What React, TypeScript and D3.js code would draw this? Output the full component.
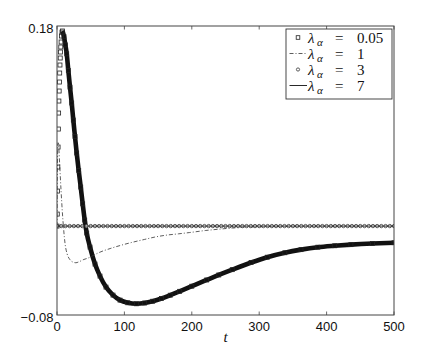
import React from "react";
import * as d3 from "d3";

// λα = 0.05 (square markers)
const tA = [0, 0.4, 0.8, 1.2, 1.6, 2.0, 2.4, 2.8, 3.2, 3.6, 4.0, 4.4, 4.8, 5.2, 5.6, 6.1, 6.7, 7.4, 8.2, 10.4, 12.4, 14.4, 16.8, 19.3, 21.8, 24.2, 26.7, 29.2, 32.2, 35.2, 38.1, 41.1, 44.1, 49.0, 56.4, 63.8, 72.7, 83.1, 93.5, 105, 118, 130, 142, 155, 168, 182, 200, 222, 240, 260, 288, 312, 338, 362, 387, 412, 436, 468, 500];
const vA = [0, 0.0108, 0.0315, 0.0531, 0.0711, 0.0873, 0.1017, 0.1125, 0.1215, 0.1296, 0.1377, 0.1449, 0.1512, 0.1566, 0.1611, 0.1656, 0.171, 0.1745, 0.1755, 0.1704, 0.163, 0.155, 0.14, 0.125, 0.1107, 0.0954, 0.0805, 0.0657, 0.05, 0.0351, 0.02, 0.0054, -0.0063, -0.0189, -0.0342, -0.045, -0.0549, -0.0621, -0.0666, -0.069, -0.0699, -0.0692, -0.0676, -0.0652, -0.0622, -0.0587, -0.0541, -0.0485, -0.044, -0.0392, -0.0328, -0.028, -0.024, -0.0212, -0.019, -0.0177, -0.0167, -0.0157, -0.015];

// λα = 1 (dash-dot)
const tB = [0, 0.5, 1, 1.6, 2.5, 4, 6, 8, 10, 12, 15, 19, 24, 28, 33, 40, 46, 55, 64, 80, 96, 113, 130, 145, 163, 180, 197, 220, 242, 265, 286, 320, 360, 420, 500];
const vB = [0, 0.045, 0.068, 0.075, 0.072, 0.055, 0.032, 0.012, -0.004, -0.016, -0.025, -0.03, -0.0325, -0.033, -0.032, -0.03, -0.0288, -0.026, -0.0234, -0.02, -0.0171, -0.0144, -0.012, -0.0099, -0.0081, -0.007, -0.0058, -0.004, -0.0027, -0.0015, -0.0009, -0.0004, -0.0002, 0, 0];

// λα = 3 (circle markers), sampled on a regular time grid
const tC = d3.range(0, 500.01, 6.25);
const vC = tC.map(() => 0);

// λα = 7 (solid)
const tD = [0, 5, 10, 50, 100, 200, 300, 400, 500];
const vD = [0, 0, 0, 0, 0, 0, 0, 0, 0];

const xTicks = [0, 100, 200, 300, 400, 500];
const yTicks = [0.18, -0.08];
const yTickLabels = ["0.18", "\u22120.08"];
const legendValues = ["0.05", "1", "3", "7"];

const W = 436, H = 355;
const L = 57, R = 394, T = 26, B = 315;

export default function App() {
  const x = d3.scaleLinear().domain([0, 500]).range([L, R]);
  const y = d3.scaleLinear().domain([-0.08, 0.18]).range([B, T]);

  const line = (ts: number[], vs: number[]) =>
    d3.line<number>().x((_, i) => x(ts[i])).y((d) => y(d)).curve(d3.curveMonotoneX)(vs) || "";

  const peak = d3.maxIndex(vA);
  const tAthick = tA.slice(peak);
  const vAthick = vA.slice(peak);

  const sq = 4;
  const axisColor = "#444";
  const sans = "'Liberation Sans', Arial, Helvetica, sans-serif";
  const serif = "'Liberation Serif', 'Times New Roman', serif";

  const legendX0 = 286, legendX1 = 392, legendY0 = 29, legendY1 = 99;
  const baselines = [42.5, 58.5, 74.5, 90.5];

  return (
    <svg width={W} height={H} style={{ position: "absolute", left: 0, top: 0, background: "#fff" }}>
      <rect x={0} y={0} width={W} height={H} fill="#fff" />
      <defs>
        <clipPath id="plot">
          <rect x={L} y={T - 6} width={R - L} height={B - T + 6} />
        </clipPath>
      </defs>

      <g clipPath="url(#plot)">
        <path d={line(tAthick, vAthick)} fill="none" stroke="#111" strokeWidth={4.6} strokeLinejoin="round" />
        {tA.map((t, i) => (
          <rect key={"a" + i} x={x(t) - sq / 2} y={y(vA[i]) - sq / 2} width={sq} height={sq}
            fill="none" stroke="#222" strokeWidth={0.8} />
        ))}
        <path d={line(tB, vB)} fill="none" stroke="#333" strokeWidth={0.8} strokeDasharray="4,2,1,2" />
        {tC.map((t, i) => (
          <circle key={"c" + i} cx={x(t)} cy={y(vC[i])} r={1.7} fill="#fff" stroke="#333" strokeWidth={0.8} />
        ))}
        <path d={line(tD, vD)} fill="none" stroke="#111" strokeWidth={0.8} />
      </g>

      <rect x={L} y={T} width={R - L} height={B - T} fill="none" stroke={axisColor} strokeWidth={1} />
      {xTicks.map((t) => (
        <g key={"xt" + t}>
          <line x1={x(t)} x2={x(t)} y1={B} y2={B - 3.5} stroke={axisColor} strokeWidth={0.8} />
          <line x1={x(t)} x2={x(t)} y1={T} y2={T + 3.5} stroke={axisColor} strokeWidth={0.8} />
          <text x={x(t)} y={B + 15.5} style={{ fontFamily: sans, fontSize: 13 }} textAnchor="middle" fill="#111">{t}</text>
        </g>
      ))}
      {yTicks.map((v, i) => (
        <text key={"yt" + i} x={L - 3.5} y={y(v) + (i === 0 ? 6.5 : 7)} style={{ fontFamily: sans, fontSize: 13 }} textAnchor="end" fill="#111">
          {yTickLabels[i]}
        </text>
      ))}
      <text x={(L + R) / 2} y={342} style={{ fontFamily: serif, fontStyle: "italic", fontSize: 15 }} textAnchor="middle" fill="#111">t</text>

      <rect x={legendX0} y={legendY0} width={legendX1 - legendX0} height={legendY1 - legendY0} fill="#fff" stroke="#333" strokeWidth={0.9} />
      {legendValues.map((val, i) => {
        const by = baselines[i];
        const my = by - 5;
        return (
          <g key={"lg" + i}>
            {i === 0 && <rect x={298 - 1.8} y={my - 1.8} width={3.6} height={3.6} fill="none" stroke="#222" strokeWidth={0.8} />}
            {i === 1 && <line x1={289.5} x2={306} y1={my} y2={my} stroke="#333" strokeWidth={0.8} strokeDasharray="4,2,1,2" />}
            {i === 2 && <circle cx={298} cy={my} r={1.6} fill="#fff" stroke="#333" strokeWidth={0.8} />}
            {i === 3 && <line x1={289.5} x2={307} y1={my} y2={my} stroke="#111" strokeWidth={0.9} />}
            <text x={308} y={by} style={{ fontFamily: serif, fontSize: 15 }} fill="#111">
              <tspan style={{ fontStyle: "italic" }}>λ</tspan>
              <tspan x={317} dy={3} style={{ fontStyle: "italic", fontSize: 11 }}>α</tspan>
              <tspan x={335} dy={-3}>=</tspan>
              <tspan x={357}>{val}</tspan>
            </text>
          </g>
        );
      })}
    </svg>
  );
}
